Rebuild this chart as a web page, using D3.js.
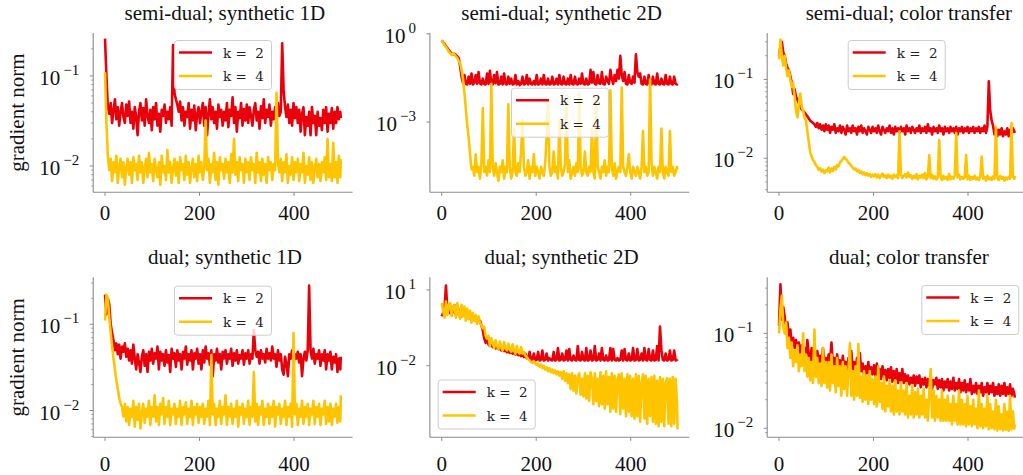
<!DOCTYPE html>
<html><head><meta charset="utf-8">
<script src="https://cdn.jsdelivr.net/npm/d3@7/dist/d3.min.js"></script>
<style>body{margin:0;background:#fff} svg{display:block}</style>
</head><body><svg id="c" width="1023" height="475"></svg>
<script>
// ---------- data ----------
const iters = d3.range(0, 499, 3).concat([499]);   // 168 sampled iterations

const titles = ["semi-dual; synthetic 1D", "semi-dual; synthetic 2D", "semi-dual; color transfer",
                "dual; synthetic 1D", "dual; synthetic 2D", "dual; color transfer"];
const seriesNames = ["k = 2", "k = 4"];
const yAxisLabel = "gradient norm";
const xTickValues = [0, 200, 400];
const yTickValues = [[0.1, 0.01], [1, 0.001], [0.1, 0.01], [0.1, 0.01], [10, 0.01], [0.1, 0.01]];
const yDomains = [[0.0051, 0.30], [4.1e-6, 1.07], [0.0037, 0.388], [0.0049, 0.35], [1.45e-5, 31.6], [0.00803, 0.39]];

// semi-dual; synthetic 1D
const s1d_k2 = [0.26,0.1,0.045,0.038,0.05,0.03,0.042,0.055,0.033,0.045,0.028,0.04,0.05,0.035,0.03,0.048,0.036,
0.052,0.03,0.04,0.026,0.045,0.035,0.022,0.04,0.05,0.032,0.044,0.028,0.055,0.036,0.03,0.042,0.025,
0.045,0.033,0.05,0.028,0.038,0.024,0.042,0.036,0.048,0.03,0.04,0.033,0.045,0.028,0.22,0.065,0.055,
0.048,0.04,0.052,0.032,0.045,0.028,0.04,0.035,0.05,0.026,0.042,0.032,0.047,0.025,0.038,0.045,0.03,
0.04,0.05,0.028,0.045,0.022,0.038,0.055,0.033,0.045,0.03,0.04,0.026,0.048,0.035,0.042,0.028,0.04,
0.032,0.05,0.027,0.042,0.036,0.058,0.03,0.045,0.024,0.04,0.034,0.05,0.028,0.043,0.032,0.048,0.03,
0.045,0.036,0.028,0.042,0.05,0.032,0.04,0.026,0.046,0.034,0.055,0.03,0.042,0.035,0.048,0.028,0.04,
0.033,0.045,0.03,0.05,0.036,0.04,0.23,0.07,0.045,0.035,0.048,0.03,0.042,0.028,0.05,0.034,0.045,
0.03,0.042,0.024,0.038,0.045,0.022,0.035,0.028,0.04,0.022,0.045,0.03,0.036,0.022,0.04,0.028,0.034,
0.025,0.042,0.03,0.045,0.024,0.038,0.03,0.044,0.026,0.04,0.03,0.045,0.033,0.04,0.034];
const s1d_k4 = [0.11,0.03,0.013,0.009,0.012,0.0068,0.011,0.0085,0.013,0.0065,0.01,0.012,0.0075,0.011,0.0062,0.0095,0.012,
0.008,0.011,0.0065,0.0125,0.009,0.0105,0.007,0.013,0.0085,0.011,0.0065,0.0095,0.012,0.0075,0.014,0.0085,0.0105,
0.0068,0.012,0.009,0.0075,0.011,0.0062,0.013,0.0085,0.01,0.007,0.015,0.0085,0.011,0.0065,0.0095,0.012,0.0078,
0.011,0.0065,0.0125,0.009,0.0105,0.007,0.013,0.008,0.011,0.0065,0.0095,0.012,0.0075,0.0105,0.0068,0.013,0.0085,
0.011,0.007,0.0095,0.032,0.009,0.012,0.0065,0.0105,0.0085,0.014,0.007,0.011,0.0062,0.0125,0.009,0.0105,0.0072,
0.012,0.0085,0.011,0.0065,0.0135,0.0085,0.02,0.008,0.011,0.0068,0.0125,0.009,0.0105,0.0065,0.012,0.0085,0.011,
0.007,0.0125,0.009,0.0105,0.0065,0.014,0.0085,0.011,0.0068,0.012,0.008,0.0105,0.0065,0.0125,0.009,0.011,0.007,
0.0105,0.009,0.065,0.011,0.0085,0.012,0.0068,0.011,0.0085,0.0135,0.0065,0.01,0.008,0.0125,0.007,0.011,0.0085,
0.012,0.0068,0.0105,0.0085,0.014,0.0065,0.01,0.008,0.0125,0.007,0.011,0.0065,0.0095,0.012,0.0075,0.0105,0.0068,
0.011,0.0085,0.0125,0.007,0.02,0.0075,0.0105,0.0068,0.018,0.0075,0.011,0.0065,0.013,0.0075,0.012];

// semi-dual; synthetic 2D
const s2d_k2 = [0.6,0.52,0.45,0.38,0.33,0.28,0.24,0.22,0.2,0.21,0.19,0.17,0.15,0.08,0.035,0.022,0.04,
0.02,0.019,0.035,0.02,0.045,0.019,0.022,0.04,0.02,0.05,0.021,0.019,0.03,0.02,0.019,0.045,0.02,
0.055,0.02,0.019,0.04,0.021,0.05,0.019,0.02,0.035,0.019,0.045,0.02,0.019,0.035,0.02,0.03,0.019,
0.02,0.04,0.019,0.025,0.018,0.02,0.035,0.019,0.02,0.04,0.019,0.03,0.02,0.019,0.025,0.019,0.04,
0.019,0.02,0.03,0.019,0.04,0.02,0.019,0.03,0.019,0.02,0.035,0.019,0.02,0.03,0.019,0.04,0.02,
0.019,0.035,0.02,0.019,0.03,0.019,0.04,0.02,0.019,0.035,0.02,0.019,0.03,0.02,0.045,0.02,0.019,
0.03,0.019,0.02,0.06,0.022,0.05,0.02,0.019,0.04,0.021,0.02,0.05,0.02,0.019,0.035,0.025,0.02,
0.06,0.03,0.02,0.04,0.025,0.06,0.03,0.18,0.04,0.025,0.05,0.02,0.019,0.04,0.022,0.02,0.035,
0.022,0.2,0.05,0.035,0.045,0.02,0.019,0.035,0.02,0.019,0.04,0.02,0.019,0.035,0.02,0.019,0.045,
0.02,0.019,0.03,0.02,0.019,0.04,0.02,0.019,0.035,0.02,0.019,0.035,0.02,0.019,0.02];
const s2d_k4 = [0.6,0.5,0.42,0.36,0.3,0.25,0.22,0.19,0.22,0.2,0.17,0.15,0.12,0.1,0.06,0.03,0.01,
0.003,0.0008,0.0003,8e-5,2.5e-5,3e-5,1.5e-5,8e-5,2e-5,3e-5,1.2e-5,4e-5,0.003,2e-5,3e-5,1.5e-5,5e-5,
2e-5,0.02,3e-5,1.5e-5,4e-5,2e-5,1e-5,3e-5,2e-5,5e-5,1.2e-5,3e-5,2e-5,0.004,3e-5,1.2e-5,2e-5,
6e-4,2e-5,1.5e-5,4e-5,2e-5,1e-4,1.2e-3,3e-5,1.5e-5,2e-5,5e-5,1.2e-5,3e-5,2e-5,8e-5,1.5e-5,3e-5,
2e-5,1.2e-5,3e-5,2e-5,1.5e-5,4e-5,3e-4,5e-3,3e-5,1.5e-5,2e-5,1e-4,2e-5,3e-5,1.2e-5,1.2e-3,3e-5,
1.5e-5,2e-5,4e-5,8e-3,2e-5,5e-5,1.2e-5,2e-5,3e-5,1.5e-5,4e-5,2e-5,0.01,3e-5,1.5e-5,2e-5,1e-4,
2e-5,1.5e-5,3e-5,2e-5,6e-4,2e-5,1.2e-5,8e-3,3e-5,2e-5,1.2e-5,3e-5,2e-5,5e-5,1.5e-5,3e-5,2e-5,
0.012,3e-5,1.5e-5,4e-5,1.2e-5,2e-5,3e-5,2e-5,0.015,3e-5,2e-5,1.5e-5,3e-5,8e-5,2e-5,1.2e-5,3e-5,
2e-5,1.5e-5,3e-5,2e-5,1.2e-5,3e-5,5e-4,2e-5,3e-5,1.5e-5,2e-5,0.028,4e-5,1.5e-5,3e-5,2e-5,1.2e-5,
3e-5,2e-5,6e-4,2e-5,1.2e-5,3e-5,2e-5,1.5e-5,5e-4,2e-5,3e-5,1.5e-5,2e-5,3e-5,2.5e-5];

// semi-dual; color transfer
const sct_k2 = [0.2,0.26,0.3,0.22,0.2,0.16,0.14,0.13,0.11,0.09,0.065,0.075,0.06,0.055,0.05,0.046,0.042,
0.04,0.038,0.036,0.034,0.032,0.03,0.029,0.028,0.027,0.025,0.028,0.024,0.027,0.023,0.026,0.022,0.027,
0.023,0.026,0.021,0.025,0.023,0.027,0.021,0.024,0.022,0.026,0.021,0.025,0.023,0.02,0.026,0.022,0.024,
0.021,0.026,0.022,0.024,0.02,0.025,0.022,0.026,0.021,0.024,0.022,0.02,0.025,0.023,0.021,0.025,0.022,
0.024,0.021,0.026,0.022,0.02,0.025,0.023,0.021,0.024,0.022,0.026,0.021,0.024,0.02,0.025,0.022,0.024,
0.021,0.025,0.022,0.024,0.02,0.026,0.022,0.024,0.021,0.025,0.023,0.021,0.024,0.022,0.026,0.021,0.024,
0.022,0.025,0.021,0.027,0.022,0.024,0.02,0.025,0.022,0.024,0.021,0.026,0.022,0.024,0.02,0.025,0.022,
0.024,0.021,0.025,0.022,0.024,0.021,0.025,0.02,0.024,0.022,0.025,0.021,0.024,0.022,0.025,0.021,0.024,
0.022,0.025,0.021,0.024,0.022,0.025,0.021,0.024,0.022,0.026,0.021,0.025,0.095,0.04,0.03,0.026,0.02,
0.024,0.019,0.023,0.02,0.024,0.019,0.022,0.02,0.024,0.019,0.023,0.02,0.024,0.022,0.021];
const sct_k4 = [0.18,0.32,0.2,0.15,0.2,0.14,0.11,0.13,0.1,0.08,0.09,0.06,0.04,0.033,0.05,0.066,0.045,
0.04,0.033,0.03,0.022,0.016,0.012,0.0105,0.0095,0.009,0.0082,0.0078,0.0071,0.0075,0.0068,0.0072,0.0065,0.007,
0.0068,0.0076,0.0066,0.0074,0.0069,0.0078,0.0072,0.0082,0.0079,0.0088,0.0092,0.0098,0.0104,0.0098,0.0095,0.0088,0.0085,
0.008,0.0076,0.0072,0.0074,0.0068,0.0071,0.0065,0.0068,0.0063,0.0066,0.0061,0.0065,0.006,0.0063,0.0058,0.0062,0.0059,
0.0063,0.0057,0.0062,0.0056,0.006,0.0064,0.0058,0.0061,0.0056,0.0062,0.0057,0.006,0.0055,0.0062,0.0058,0.0061,0.0056,
0.022,0.0062,0.0056,0.006,0.0063,0.0057,0.0066,0.0058,0.0061,0.0055,0.006,0.0056,0.0063,0.0054,0.006,0.0057,0.0062,
0.0056,0.0065,0.0054,0.0058,0.011,0.0056,0.0062,0.0055,0.0059,0.0054,0.0057,0.017,0.0058,0.0053,0.006,0.0055,0.0058,
0.0053,0.0063,0.0054,0.0058,0.0055,0.0061,0.021,0.0057,0.0062,0.0054,0.0058,0.0055,0.0057,0.011,0.0054,0.006,0.0053,
0.0058,0.0055,0.006,0.0054,0.0057,0.0053,0.0059,0.0105,0.0055,0.0058,0.0052,0.006,0.0054,0.0057,0.0053,0.0059,0.0055,
0.025,0.0057,0.0053,0.006,0.0055,0.0058,0.0052,0.0057,0.0054,0.0058,0.0055,0.028,0.0058,0.0055,0.006];

// dual; synthetic 1D
const d1d_k2 = [0.22,0.13,0.2,0.17,0.1,0.079,0.065,0.05,0.06,0.045,0.058,0.04,0.055,0.048,0.06,0.042,0.052,
0.038,0.05,0.035,0.058,0.04,0.03,0.045,0.036,0.028,0.042,0.05,0.033,0.045,0.028,0.048,0.038,0.052,
0.035,0.046,0.04,0.055,0.03,0.048,0.038,0.045,0.033,0.05,0.036,0.044,0.028,0.052,0.04,0.046,0.032,
0.05,0.038,0.045,0.03,0.048,0.04,0.055,0.034,0.045,0.038,0.05,0.03,0.046,0.04,0.052,0.035,0.045,
0.03,0.05,0.036,0.055,0.04,0.046,0.034,0.05,0.025,0.045,0.038,0.052,0.036,0.045,0.03,0.048,0.04,
0.05,0.035,0.045,0.04,0.052,0.033,0.046,0.038,0.05,0.035,0.044,0.04,0.05,0.034,0.046,0.04,0.05,
0.035,0.045,0.04,0.085,0.05,0.042,0.048,0.035,0.05,0.04,0.045,0.036,0.052,0.04,0.046,0.038,0.055,
0.04,0.045,0.032,0.05,0.038,0.045,0.03,0.026,0.042,0.035,0.025,0.045,0.04,0.05,0.035,0.045,0.04,
0.048,0.036,0.045,0.025,0.04,0.048,0.038,0.05,0.28,0.05,0.04,0.052,0.035,0.045,0.04,0.05,0.033,
0.045,0.038,0.05,0.03,0.045,0.038,0.048,0.03,0.042,0.036,0.045,0.028,0.04,0.03,0.042];
const d1d_k4 = [0.11,0.22,0.2,0.12,0.08,0.055,0.04,0.03,0.022,0.018,0.014,0.012,0.011,0.0085,0.012,0.0075,0.011,
0.0068,0.0105,0.0085,0.013,0.0065,0.011,0.0078,0.012,0.0062,0.0095,0.012,0.0072,0.0105,0.0085,0.013,0.0068,0.011,
0.0085,0.015,0.0075,0.011,0.0068,0.012,0.009,0.014,0.007,0.011,0.0085,0.013,0.0068,0.0105,0.009,0.012,0.007,
0.0105,0.0085,0.013,0.0068,0.011,0.009,0.0125,0.007,0.0105,0.0085,0.013,0.0068,0.011,0.009,0.012,0.0072,0.011,
0.0085,0.012,0.007,0.0105,0.0085,0.013,0.0068,0.044,0.009,0.012,0.0068,0.0105,0.0085,0.013,0.007,0.011,0.009,
0.015,0.0068,0.011,0.0085,0.012,0.007,0.0105,0.0085,0.013,0.0065,0.011,0.009,0.012,0.007,0.0105,0.0085,0.013,
0.0068,0.011,0.0085,0.028,0.0075,0.012,0.0068,0.011,0.009,0.013,0.0068,0.0105,0.0085,0.012,0.007,0.011,0.0085,
0.013,0.0065,0.011,0.009,0.012,0.007,0.0105,0.0085,0.013,0.0068,0.011,0.0085,0.012,0.0065,0.079,0.009,0.012,
0.0068,0.0105,0.0085,0.013,0.007,0.011,0.0085,0.012,0.0068,0.0105,0.009,0.013,0.007,0.011,0.0085,0.012,0.0068,
0.0105,0.009,0.013,0.007,0.011,0.0075,0.012,0.0068,0.0105,0.0085,0.012,0.0072,0.011,0.0075,0.015];

// dual; synthetic 2D
const d2d_k2 = [0.9,1.2,2.0,15,1.5,2.5,1.2,2.0,1.3,2.5,1.0,1.8,1.1,1.6,0.9,1.4,1.0,
1.3,0.8,1.2,0.75,1.0,0.7,0.9,0.6,0.75,0.55,0.6,0.4,0.25,0.12,0.08,0.1,0.07,
0.06,0.075,0.055,0.06,0.048,0.055,0.045,0.05,0.04,0.045,0.038,0.04,0.034,0.038,0.032,0.035,0.03,
0.033,0.028,0.03,0.026,0.028,0.024,0.026,0.022,0.03,0.02,0.019,0.035,0.017,0.018,0.03,0.016,0.017,
0.035,0.016,0.017,0.04,0.016,0.017,0.03,0.016,0.02,0.017,0.016,0.035,0.016,0.017,0.05,0.016,0.017,
0.03,0.016,0.017,0.04,0.016,0.045,0.017,0.016,0.025,0.017,0.016,0.06,0.017,0.016,0.035,0.017,0.016,
0.05,0.016,0.017,0.04,0.016,0.017,0.06,0.016,0.017,0.03,0.016,0.05,0.017,0.016,0.025,0.016,0.017,
0.05,0.016,0.045,0.017,0.016,0.02,0.016,0.017,0.04,0.016,0.045,0.017,0.016,0.03,0.016,0.017,0.05,
0.016,0.017,0.045,0.016,0.017,0.03,0.016,0.05,0.017,0.016,0.045,0.017,0.016,0.04,0.016,0.017,0.06,
0.016,0.35,0.04,0.017,0.016,0.03,0.016,0.017,0.04,0.016,0.017,0.04,0.016,0.017,0.018];
const d2d_k4 = [3,1.5,0.8,3.5,1.0,2.5,3.0,0.9,2.2,2.5,0.8,3.0,1.2,0.7,2.6,0.9,2.2,
0.6,1.8,0.7,1.5,0.5,1.2,0.6,1.0,0.45,0.9,0.5,0.4,0.3,0.35,0.15,0.12,0.15,
0.06,0.12,0.08,0.05,0.1,0.06,0.045,0.09,0.05,0.04,0.085,0.05,0.04,0.075,0.045,0.035,0.07,
0.04,0.03,0.06,0.035,0.03,0.055,0.03,0.035,0.025,0.022,0.018,0.016,0.014,0.013,0.015,0.012,0.011,
0.012,0.009,0.011,0.008,0.01,0.007,0.0085,0.006,0.008,0.0055,0.007,0.005,0.0065,0.0045,0.006,0.004,0.0055,
0.003,0.006,0.0025,0.005,0.002,0.0045,0.0012,0.005,0.001,0.004,0.0008,0.0035,0.005,0.0007,0.003,0.0006,0.005,
0.0005,0.004,0.0004,0.0055,0.003,0.0003,0.005,0.0004,0.003,0.00025,0.0055,0.0003,0.004,0.0002,0.006,0.0003,0.0035,
0.00015,0.005,0.0002,0.004,0.00015,0.003,0.0045,0.00012,0.005,0.0002,0.003,0.0001,0.0045,0.00015,0.004,0.0001,0.003,
8e-5,0.0045,0.0001,0.004,6e-5,0.002,0.0045,8e-5,0.004,5e-5,0.003,0.0001,0.0035,6e-5,0.004,5e-5,0.0025,
4e-5,0.0035,6e-5,0.003,4e-5,0.002,0.0032,5e-5,0.003,4e-5,0.0035,5e-5,0.003,0.0003,3e-5];

// dual; color transfer
const dct_k2 = [0.12,0.33,0.14,0.19,0.15,0.1,0.13,0.085,0.11,0.075,0.09,0.07,0.085,0.065,0.08,0.06,0.075,
0.065,0.07,0.055,0.085,0.06,0.052,0.07,0.05,0.062,0.048,0.065,0.05,0.058,0.046,0.07,0.05,0.055,
0.045,0.06,0.05,0.08,0.046,0.055,0.042,0.06,0.045,0.052,0.04,0.058,0.044,0.05,0.04,0.055,0.042,
0.065,0.042,0.05,0.038,0.055,0.04,0.062,0.04,0.048,0.036,0.045,0.038,0.05,0.035,0.044,0.037,0.046,
0.036,0.048,0.034,0.042,0.033,0.045,0.035,0.041,0.032,0.042,0.034,0.044,0.031,0.04,0.033,0.042,0.03,
0.038,0.032,0.042,0.03,0.037,0.031,0.036,0.029,0.034,0.03,0.036,0.028,0.035,0.03,0.036,0.027,0.033,
0.029,0.034,0.027,0.033,0.028,0.036,0.026,0.032,0.029,0.034,0.026,0.032,0.027,0.033,0.025,0.031,0.027,
0.033,0.025,0.031,0.026,0.034,0.025,0.03,0.026,0.033,0.024,0.03,0.025,0.032,0.024,0.029,0.025,0.033,
0.023,0.028,0.024,0.03,0.023,0.028,0.024,0.03,0.022,0.027,0.024,0.03,0.023,0.028,0.024,0.03,0.022,
0.027,0.023,0.029,0.022,0.028,0.023,0.03,0.022,0.027,0.023,0.029,0.022,0.026,0.023,0.021];
const dct_k4 = [0.1,0.18,0.25,0.12,0.1,0.13,0.07,0.09,0.055,0.08,0.045,0.065,0.05,0.075,0.04,0.06,0.045,
0.1,0.04,0.06,0.035,0.055,0.032,0.05,0.03,0.11,0.035,0.055,0.03,0.048,0.028,0.07,0.03,0.05,
0.027,0.05,0.025,0.06,0.03,0.045,0.024,0.055,0.028,0.045,0.022,0.05,0.026,0.045,0.022,0.04,0.079,
0.022,0.04,0.02,0.045,0.022,0.077,0.021,0.035,0.019,0.04,0.02,0.035,0.018,0.04,0.02,0.033,0.018,
0.035,0.017,0.045,0.019,0.03,0.016,0.035,0.015,0.028,0.017,0.032,0.015,0.028,0.014,0.032,0.015,0.025,
0.014,0.03,0.015,0.025,0.014,0.03,0.013,0.022,0.014,0.028,0.013,0.024,0.014,0.026,0.013,0.022,0.014,
0.026,0.013,0.02,0.012,0.024,0.042,0.013,0.025,0.012,0.022,0.013,0.02,0.012,0.025,0.012,0.02,0.012,
0.022,0.012,0.018,0.011,0.022,0.012,0.018,0.011,0.025,0.011,0.02,0.011,0.018,0.0105,0.022,0.011,0.017,
0.0105,0.02,0.011,0.016,0.01,0.025,0.0105,0.018,0.01,0.016,0.0105,0.022,0.0098,0.018,0.01,0.015,0.0098,
0.02,0.0095,0.017,0.0098,0.014,0.0095,0.018,0.0096,0.015,0.0094,0.022,0.0097,0.015,0.0099,0.011];

const panelSeries = [[s1d_k2, s1d_k4], [s2d_k2, s2d_k4], [sct_k2, sct_k4],
                     [d1d_k2, d1d_k4], [d2d_k2, d2d_k4], [dct_k2, dct_k4]];

// ---------- layout / style ----------
const colors = ["#e8000b", "#ffc400"];
const colLeft = [93.2, 429.9, 767.2];
const titleShift = [2, 2, 12];
const axW = 259.4;
const rowTop = [33, 277.3], rowBottom = [192.3, 437.3];
const xLabelOffset = [28, 34];
const xDomain = [-25, 524];
const minorPanels = [true, false, true, true, false, true];
const legendPos = [[174, 40], [511, 87.7], [847.7, 40], [174, 285.7], [437.7, 379.5], [921.3, 285]];
const serif = "'Liberation Serif','Times New Roman',serif";
const spineColor = "#8a8a8a";

const svg = d3.select("#c");
const sup = n => (n < 0 ? "\u2212" : "") + Math.abs(n);
const bad = [];

panelSeries.forEach((series, p) => {
  const col = p % 3, row = Math.floor(p / 3);
  const x = d3.scaleLinear().domain(xDomain).range([colLeft[col], colLeft[col] + axW]);
  const y = d3.scaleLog().domain(yDomains[p]).range([rowBottom[row], rowTop[row]]);
  const g = svg.append("g");
  const x0 = colLeft[col], yb = rowBottom[row];

  g.append("line").attr("x1", x0).attr("x2", x0).attr("y1", rowTop[row]).attr("y2", yb)
    .attr("stroke", spineColor).attr("stroke-width", 1.1);
  g.append("line").attr("x1", x0).attr("x2", Math.min(1023, x0 + axW)).attr("y1", yb).attr("y2", yb)
    .attr("stroke", spineColor).attr("stroke-width", 1.1);

  xTickValues.forEach(t => {
    g.append("line").attr("x1", x(t)).attr("x2", x(t)).attr("y1", yb).attr("y2", yb + 3.5)
      .attr("stroke", spineColor).attr("stroke-width", 1);
    g.append("text").attr("x", x(t)).attr("y", yb + xLabelOffset[row]).attr("text-anchor", "middle")
      .attr("font-family", serif).attr("font-size", 21).attr("fill", "#111").text(t);
  });

  yTickValues[p].forEach(t => {
    const yy = y(t);
    g.append("line").attr("x1", x0 - 3.5).attr("x2", x0).attr("y1", yy).attr("y2", yy)
      .attr("stroke", spineColor).attr("stroke-width", 1);
    const e = Math.round(Math.log10(t));
    const tx = g.append("text").attr("x", x0 - 14).attr("y", yy + 9).attr("text-anchor", "end")
      .attr("font-family", serif).attr("font-size", 21).attr("fill", "#111");
    tx.append("tspan").text("10");
    tx.append("tspan").attr("dx", 3).attr("dy", -10).attr("font-size", 15).text(sup(e));
  });

  if (minorPanels[p]) {
    const [lo, hi] = yDomains[p];
    for (let e = Math.floor(Math.log10(lo)); e <= Math.ceil(Math.log10(hi)); e++) {
      for (let m = 2; m <= 9; m++) {
        const v = m * Math.pow(10, e);
        if (v >= lo && v <= hi) {
          g.append("line").attr("x1", x0 - 2).attr("x2", x0).attr("y1", y(v)).attr("y2", y(v))
            .attr("stroke", spineColor).attr("stroke-width", 0.8);
        }
      }
    }
  }

  const line = d3.line().defined((d, i) => i < iters.length).x((d, i) => x(iters[i])).y(d => y(d));
  series.forEach((s, k) => {
    if (s.length !== iters.length) bad.push(p + ":" + k + "=" + s.length);
    g.append("path").datum(s).attr("d", line).attr("fill", "none")
      .attr("stroke", colors[k]).attr("stroke-width", 2.6).attr("stroke-linejoin", "round");
  });

  g.append("text").attr("x", colLeft[col] + axW / 2 + titleShift[col]).attr("y", rowTop[row] - 13)
    .attr("text-anchor", "middle").attr("font-family", serif).attr("font-size", 21)
    .attr("fill", "#111").text(titles[p]);

  if (col === 0) {
    const cy = (rowTop[row] + rowBottom[row]) / 2;
    g.append("text").attr("transform", `translate(24,${cy}) rotate(-90)`)
      .attr("text-anchor", "middle").attr("font-family", serif).attr("font-size", 21)
      .attr("fill", "#111").text(yAxisLabel);
  }

  const [lx, ly] = legendPos[p];
  const lg = g.append("g").attr("transform", `translate(${lx},${ly})`);
  lg.append("rect").attr("x", 0.5).attr("y", 0.5).attr("width", 97).attr("height", 49).attr("rx", 3)
    .attr("fill", "#fff").attr("fill-opacity", 0.8).attr("stroke", "#cccccc").attr("stroke-width", 1);
  seriesNames.forEach((n, k) => {
    const yy = 12.5 + k * 23.5;
    lg.append("line").attr("x1", 5).attr("x2", 38).attr("y1", yy).attr("y2", yy)
      .attr("stroke", colors[k]).attr("stroke-width", 2.6);
    lg.append("text").attr("x", 49).attr("y", yy + 5).attr("font-family", "'DejaVu Serif',serif")
      .attr("font-size", 13.5).attr("fill", "#222").attr("xml:space", "preserve")
      .style("white-space", "pre").text(n.replace("= ", "=  "));
  });
});
if (bad.length) svg.append("text").attr("x", 300).attr("y", 240).attr("fill", "blue").attr("font-size", 14).text("LEN " + bad.join(" "));
</script></body></html>
